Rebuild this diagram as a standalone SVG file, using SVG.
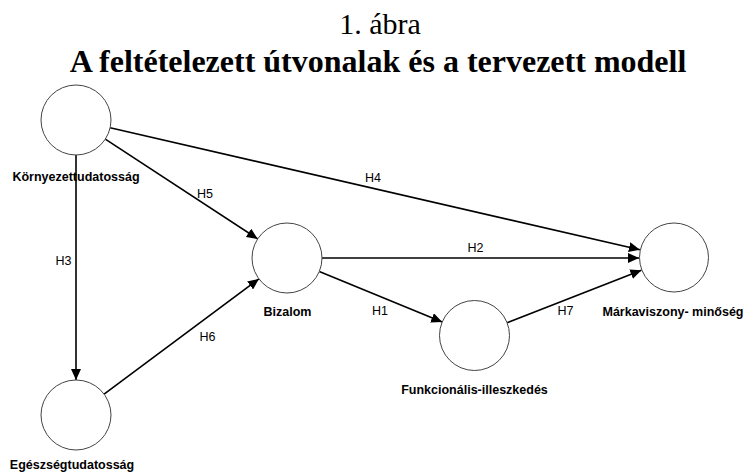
<svg xmlns="http://www.w3.org/2000/svg" width="746" height="474" viewBox="0 0 746 474">
<style>
.title{font-family:"Liberation Serif","Times New Roman",serif;fill:#000;text-anchor:middle}
.node{fill:#fff;stroke:#444;stroke-width:1}
.nlabel{font-family:"Liberation Sans",Arial,sans-serif;font-weight:bold;font-size:12.5px;fill:#000;text-anchor:middle}
.elabel{font-family:"Liberation Sans",Arial,sans-serif;font-size:12.5px;fill:#000;text-anchor:middle}
.edge{stroke:#000;stroke-width:1.6;fill:none;marker-end:url(#arrow)}
</style>
<defs>
<marker id="arrow" markerUnits="userSpaceOnUse" markerWidth="11" markerHeight="10" refX="11" refY="5" orient="auto">
<path d="M0,0 L11,5 L0,10 Z" fill="#000"/>
</marker>
</defs>
<rect width="746" height="474" fill="#fff"/>
<text class="title" x="380" y="34" font-size="30">1. ábra</text>
<text class="title" x="378" y="72" font-size="32" font-weight="bold">A feltételezett útvonalak és a tervezett modell</text>

<g id="connectors">
<line class="edge" x1="110.1" y1="127.8" x2="639.9" y2="249.7"/>
<line class="edge" x1="105.3" y1="139.1" x2="257.7" y2="238.9"/>
<line class="edge" x1="76" y1="155" x2="76" y2="380"/>
<line class="edge" x1="104.1" y1="394.1" x2="258.9" y2="278.9"/>
<line class="edge" x1="322" y1="258" x2="639" y2="258"/>
<line class="edge" x1="319.3" y1="271.4" x2="442.2" y2="322.1"/>
<line class="edge" x1="507.1" y1="322.8" x2="641.4" y2="270.2"/>
<text class="elabel" x="373" y="182">H4</text>
<text class="elabel" x="205" y="198">H5</text>
<text class="elabel" x="63.5" y="265">H3</text>
<text class="elabel" x="207.5" y="341">H6</text>
<text class="elabel" x="475.5" y="252">H2</text>
<text class="elabel" x="380" y="315">H1</text>
<text class="elabel" x="565.5" y="315">H7</text>
</g>

<g id="kornyezettudatossag">
<circle class="node" cx="76" cy="120" r="35"/>
<text class="nlabel" x="76" y="181">Környezettudatosság</text>
</g>
<g id="bizalom">
<circle class="node" cx="287" cy="258" r="35"/>
<text class="nlabel" x="287.5" y="316">Bizalom</text>
</g>
<g id="egeszsegtudatossag">
<circle class="node" cx="76" cy="415" r="35"/>
<text class="nlabel" x="72" y="469">Egészségtudatosság</text>
</g>
<g id="funkcionalis">
<circle class="node" cx="474.5" cy="335.5" r="35"/>
<text class="nlabel" x="474.5" y="394">Funkcionális-illeszkedés</text>
</g>
<g id="markaviszony">
<circle class="node" cx="674" cy="257.5" r="34.5"/>
<text class="nlabel" x="673" y="316">Márkaviszony- minőség</text>
</g>
</svg>
